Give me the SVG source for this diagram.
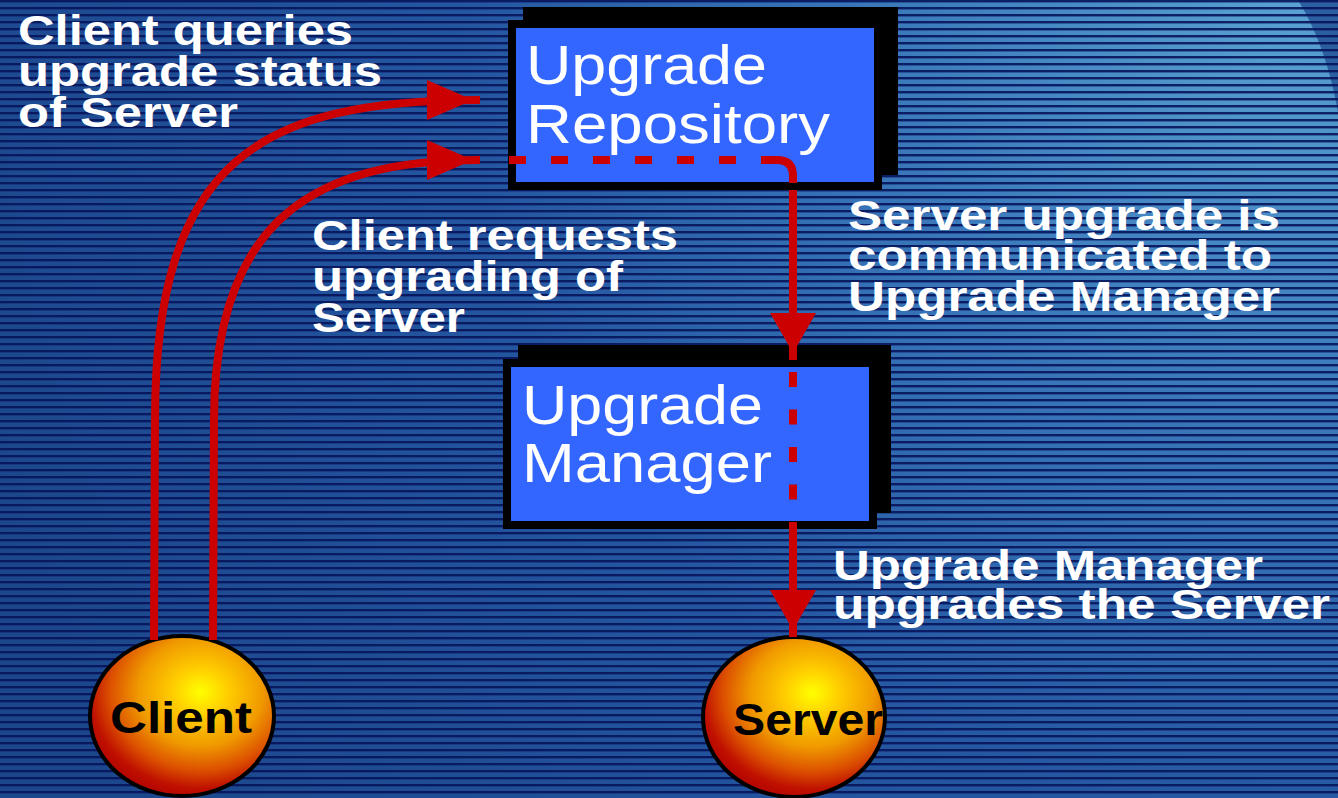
<svg xmlns="http://www.w3.org/2000/svg" width="1338" height="798" viewBox="0 0 1338 798">
  <defs>
    <radialGradient id="bgGlow" gradientUnits="userSpaceOnUse" cx="1300" cy="0" r="1400">
      <stop offset="0" stop-color="#5aa2d2"/>
      <stop offset="0.3" stop-color="#3a78ba"/>
      <stop offset="0.6" stop-color="#2456a0"/>
      <stop offset="1" stop-color="#1c478c"/>
    </radialGradient>
    <pattern id="stripes" patternUnits="userSpaceOnUse" width="8" height="7">
      <rect x="0" y="0" width="8" height="2" fill="#07145a" opacity="0.9"/>
      <rect x="0" y="2" width="8" height="1" fill="#0c2470" opacity="0.45"/>
    </pattern>
    <radialGradient id="ball" cx="0.6" cy="0.35" r="0.7" fx="0.6" fy="0.35">
      <stop offset="0" stop-color="#ffff00"/>
      <stop offset="0.22" stop-color="#ffcc00"/>
      <stop offset="0.48" stop-color="#f09a00"/>
      <stop offset="0.7" stop-color="#dc5000"/>
      <stop offset="0.86" stop-color="#bf1000"/>
      <stop offset="1" stop-color="#b00000"/>
    </radialGradient>
    <marker id="headH" markerUnits="userSpaceOnUse" markerWidth="60" markerHeight="50" refX="53" refY="20" orient="auto" overflow="visible">
      <path d="M0,0 L46,20 L0,40 Z" fill="#cc0000"/>
    </marker>
    <marker id="headV" markerUnits="userSpaceOnUse" markerWidth="60" markerHeight="50" refX="47" refY="23" orient="auto" overflow="visible">
      <path d="M0,0 L40,23 L0,46 Z" fill="#cc0000"/>
    </marker>
    <style>
      .shadow { fill: #000000; }
      .box { fill: #3366ff; stroke: #000000; stroke-width: 8; }
      .boxText { font-family: "Liberation Sans", Arial, sans-serif; font-size: 56px; fill: #ffffff; }
      .ball { fill: url(#ball); stroke: #000000; stroke-width: 4; }
      .ballText { font-family: "Liberation Sans", Arial, sans-serif; font-weight: bold; font-size: 44px; fill: #000000; }
      .label { font-family: "Liberation Sans", Arial, sans-serif; font-weight: bold; font-size: 43px; fill: #ffffff; }
      .wire { fill: none; stroke: #cc0000; stroke-width: 8; stroke-linecap: butt; }
      .dashH { stroke-dasharray: 17 25; stroke-dashoffset: 17; }
      .dashV { stroke-dasharray: 15 22.5; }
    </style>
  </defs>

  <!-- striped backdrop -->
  <rect x="0" y="0" width="1338" height="798" fill="url(#bgGlow)"/>
  <path d="M1298,0 Q1326,45 1338,112 L1338,0 Z" fill="#1c4a90" opacity="0.75"/>
  <rect x="0" y="0" width="1338" height="798" fill="url(#stripes)"/>

  <!-- Upgrade Repository -->
  <g id="upgrade-repository">
    <rect class="shadow" x="523" y="7" width="375" height="168"/>
    <rect class="box" x="512" y="24" width="366" height="162"/>
    <text class="boxText" x="526" y="84" textLength="241" lengthAdjust="spacingAndGlyphs">Upgrade</text>
    <text class="boxText" x="526" y="143" textLength="304" lengthAdjust="spacingAndGlyphs">Repository</text>
  </g>

  <!-- Upgrade Manager -->
  <g id="upgrade-manager">
    <rect class="shadow" x="518" y="345" width="373" height="168"/>
    <rect class="box" x="507" y="363" width="366" height="162"/>
    <text class="boxText" x="522" y="424" textLength="241" lengthAdjust="spacingAndGlyphs">Upgrade</text>
    <text class="boxText" x="522" y="482" textLength="250" lengthAdjust="spacingAndGlyphs">Manager</text>
  </g>

  <!-- Client -->
  <g id="client">
    <ellipse class="ball" cx="182" cy="716" rx="92" ry="80"/>
    <text class="ballText" x="110" y="733" textLength="142" lengthAdjust="spacingAndGlyphs">Client</text>
  </g>

  <!-- Server -->
  <g id="server">
    <ellipse class="ball" cx="794" cy="717" rx="91" ry="80"/>
    <text class="ballText" x="733" y="735" textLength="150" lengthAdjust="spacingAndGlyphs">Server</text>
  </g>

  <!-- connectors -->
  <g id="connectors">
    <path id="client-queries" class="wire" d="M154,640 L155,420 C155,160 260,100 480,100" marker-end="url(#headH)"/>
    <path id="client-requests" class="wire" d="M213,640 L214,420 C214,215 320,160 480,160" marker-end="url(#headH)"/>
    <g id="repository-to-manager">
      <path class="wire dashH" d="M484,160 H778"/>
      <path class="wire" d="M777,160 Q793,160 793,176 L793,183"/>
      <path class="wire" d="M793,190 V360" marker-end="url(#headV)"/>
    </g>
    <g id="manager-to-server">
      <path class="wire dashV" d="M793,372 V500"/>
      <path class="wire" d="M793,522 V637" marker-end="url(#headV)"/>
    </g>
  </g>

  <!-- captions -->
  <g id="label-queries">
    <text class="label" x="18" y="45" textLength="335" lengthAdjust="spacingAndGlyphs">Client queries</text>
    <text class="label" x="18" y="86" textLength="364" lengthAdjust="spacingAndGlyphs">upgrade status</text>
    <text class="label" x="18" y="127" textLength="220" lengthAdjust="spacingAndGlyphs">of Server</text>
  </g>
  <g id="label-requests">
    <text class="label" x="312" y="250" textLength="366" lengthAdjust="spacingAndGlyphs">Client requests</text>
    <text class="label" x="312" y="291" textLength="311" lengthAdjust="spacingAndGlyphs">upgrading of</text>
    <text class="label" x="312" y="332" textLength="153" lengthAdjust="spacingAndGlyphs">Server</text>
  </g>
  <g id="label-communicated">
    <text class="label" x="848" y="230" textLength="432" lengthAdjust="spacingAndGlyphs">Server upgrade is</text>
    <text class="label" x="848" y="270" textLength="424" lengthAdjust="spacingAndGlyphs">communicated to</text>
    <text class="label" x="848" y="311" textLength="432" lengthAdjust="spacingAndGlyphs">Upgrade Manager</text>
  </g>
  <g id="label-upgrades">
    <text class="label" x="833" y="580" textLength="430" lengthAdjust="spacingAndGlyphs">Upgrade Manager</text>
    <text class="label" x="833" y="619" textLength="497" lengthAdjust="spacingAndGlyphs">upgrades the Server</text>
  </g>
</svg>
